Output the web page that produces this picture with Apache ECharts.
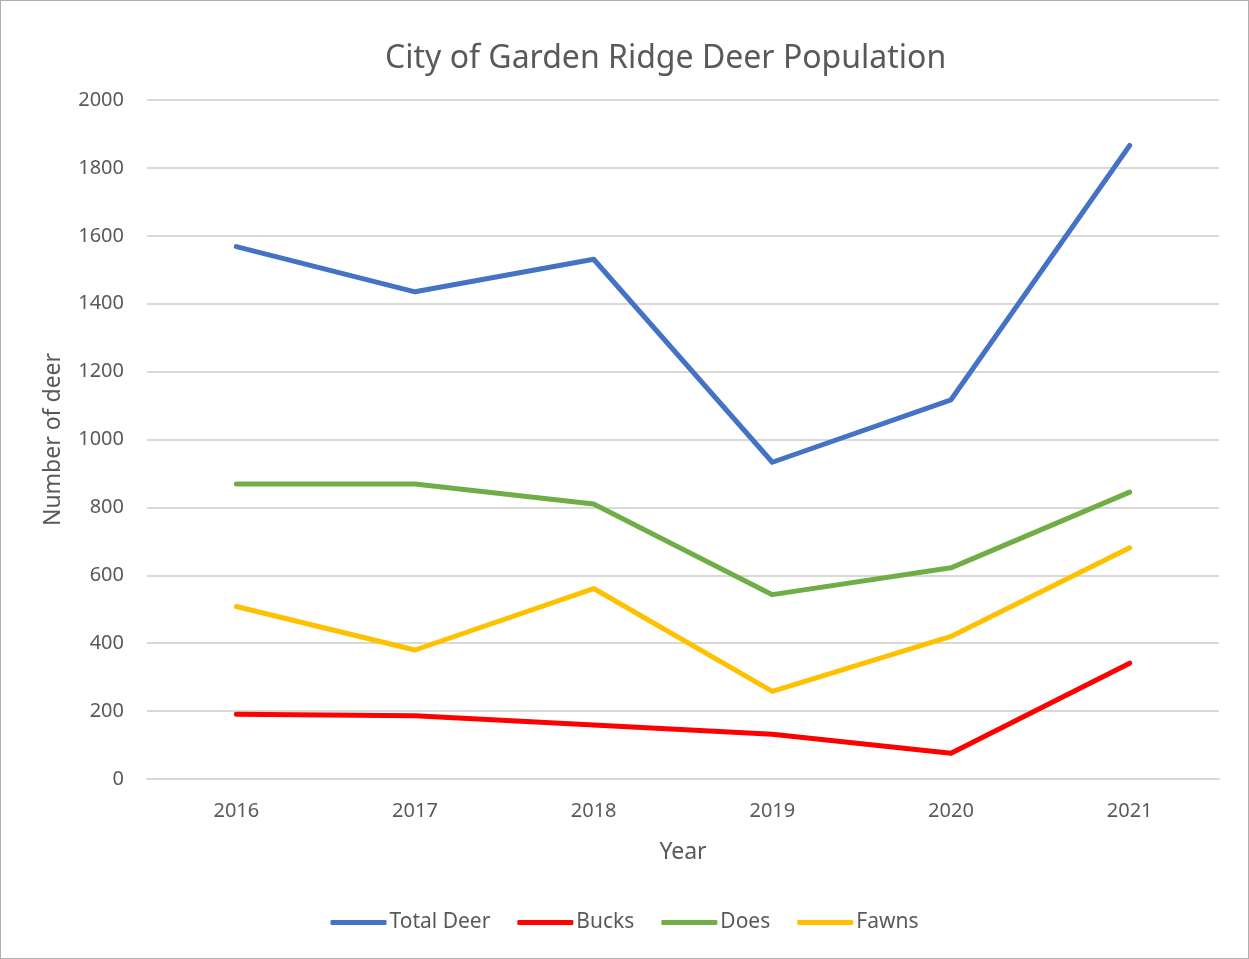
<!DOCTYPE html>
<html>
<head>
<meta charset="utf-8">
<title>City of Garden Ridge Deer Population</title>
<script src="https://cdn.jsdelivr.net/npm/echarts@6/dist/echarts.min.js"></script>
<style>
  html, body { margin: 0; padding: 0; background: #fff; }
  #main { width: 1249px; height: 959px; box-sizing: border-box; border: 1px solid #b0b0b0; }
</style>
</head>
<body>
<div id="main"></div>
<script>
var years = ['2016', '2017', '2018', '2019', '2020', '2021'];
var totalDeer = [1568, 1435, 1531, 933, 1117, 1866];
var bucks = [191, 186, 159, 132, 76, 341];
var does = [869, 869, 810, 543, 622, 845];
var fawns = [508, 380, 561, 258, 420, 681];

var myChart = echarts.init(document.getElementById('main'));
var textColor = '#595959';
var font = '"Noto Sans", sans-serif';

function lineSeries(name, data, color) {
    return {
        name: name,
        type: 'line',
        data: data,
        symbol: 'none',
        lineStyle: { width: 5, color: color, cap: 'round', join: 'round' },
        itemStyle: { color: color }
    };
}

option = {
    textStyle: { fontFamily: font },
    title: {
        text: 'City of Garden Ridge Deer Population',
        left: 384,
        top: 42,
        padding: 0,
        textStyle: { fontSize: 32, fontWeight: 'normal', color: textColor, fontFamily: font }
    },
    legend: {
        bottom: 20,
        left: 'center',
        itemWidth: 56,
        itemHeight: 5,
        itemGap: 27,
        icon: 'roundRect',
        textStyle: { fontSize: 21, color: textColor, padding: [0, 0, 0, -2] },
        data: ['Total Deer', 'Bucks', 'Does', 'Fawns']
    },
    grid: { left: 146, right: 29, top: 99, bottom: 179, containLabel: false },
    xAxis: {
        type: 'category',
        data: years,
        name: 'Year',
        nameLocation: 'middle',
        nameGap: 62,
        nameTextStyle: { fontSize: 23, color: textColor },
        axisLine: { show: true, lineStyle: { color: '#d9d9d9', width: 2 } },
        axisTick: { show: false },
        axisLabel: { fontSize: 20, color: textColor, margin: 22 }
    },
    yAxis: {
        type: 'value',
        min: 0,
        max: 2000,
        interval: 200,
        name: 'Number of deer',
        nameLocation: 'middle',
        nameGap: 82,
        nameTextStyle: { fontSize: 23, color: textColor },
        axisLine: { show: false },
        axisTick: { show: false },
        axisLabel: { fontSize: 20, color: textColor, margin: 23, formatter: function (v) { return String(v); } },
        splitLine: { lineStyle: { color: '#d9d9d9', width: 2 } }
    },
    series: [
        lineSeries('Total Deer', totalDeer, '#4472C4'),
        lineSeries('Bucks', bucks, '#FF0000'),
        lineSeries('Does', does, '#70AD47'),
        lineSeries('Fawns', fawns, '#FFC000')
    ]
};

myChart.setOption(option);
window.onresize = function () {
    myChart.resize();
}
</script>
</body>
</html>
